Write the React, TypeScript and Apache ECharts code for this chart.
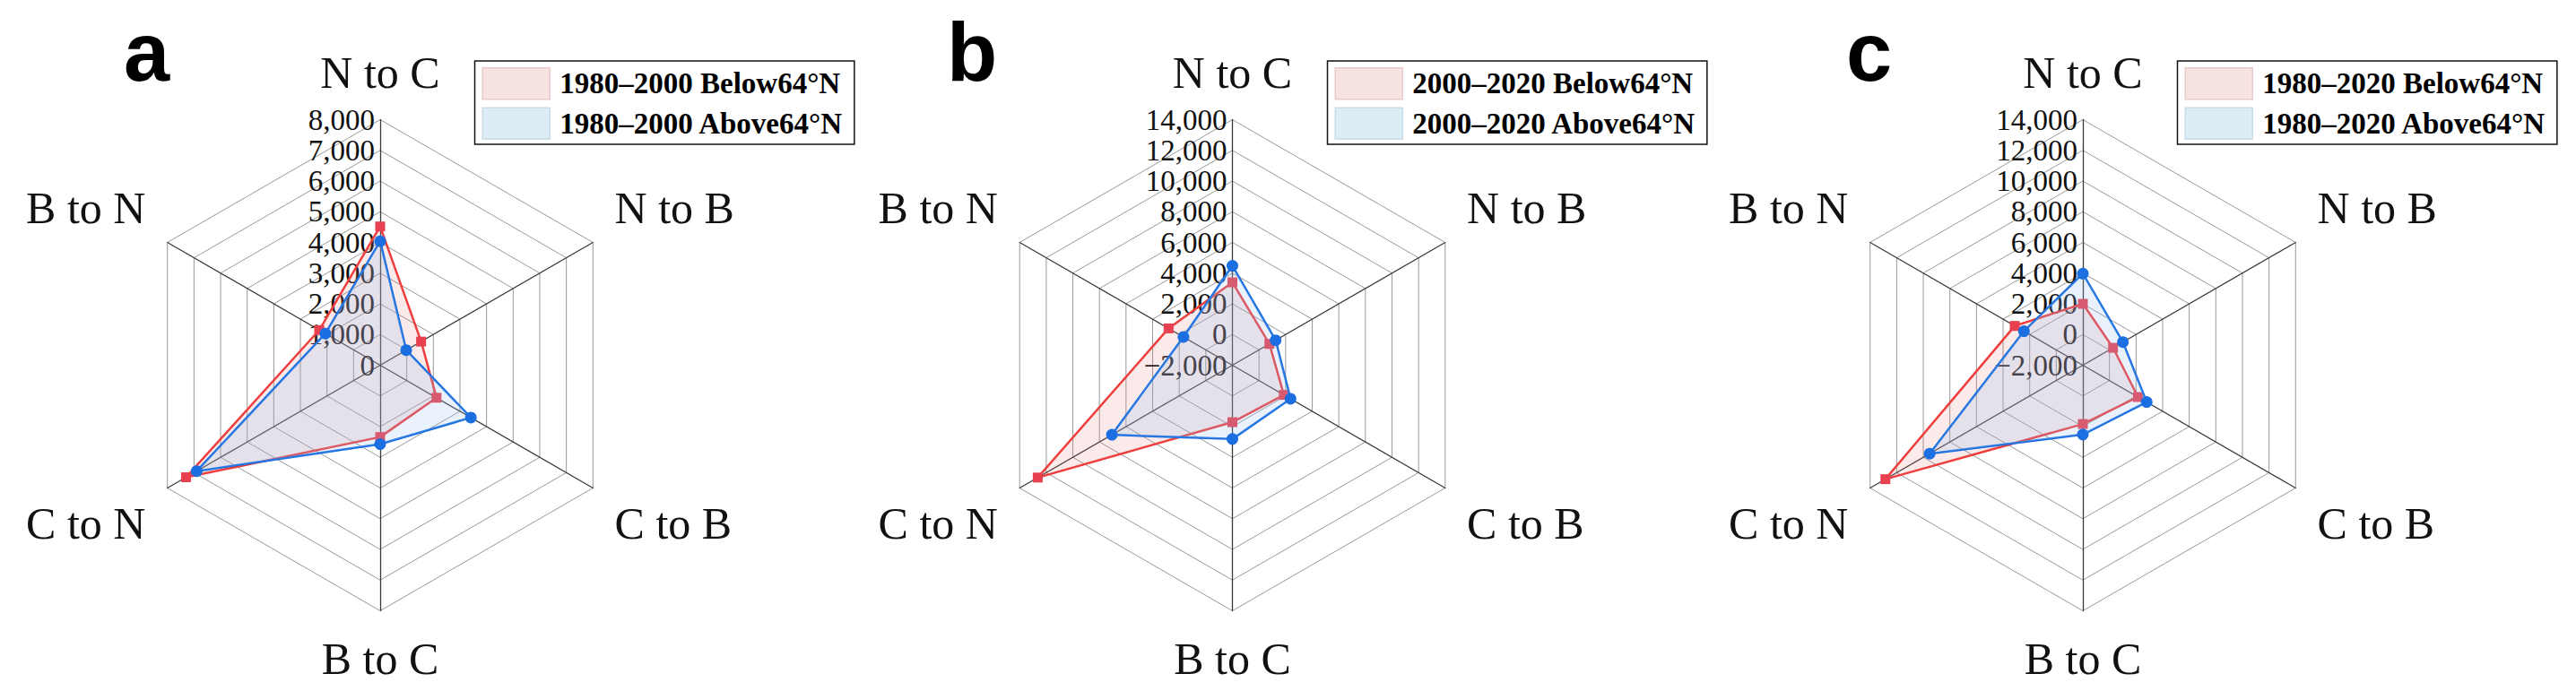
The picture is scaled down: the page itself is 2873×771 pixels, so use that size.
import React, { useEffect, useRef } from "react";
import * as echarts from "echarts";

// Indicators in ECharts order (counter-clockwise from the top)
const categories = ["N to C", "B to N", "C to N", "B to C", "C to B", "N to B"];
const upperSideNames = ["B to N", "N to B"];
const lowerSideNames = ["C to N", "C to B"];

// Panel a: 1980–2000
const aBelow = [4520, 2290, 7300, 2340, 2120, 1540];
const aAbove = [4040, 2060, 6900, 2570, 3410, 980];
// Panel b: 2000–2020
const bBelow = [3400, 2800, 12640, 1710, 1870, 780];
const bAbove = [4480, 1680, 7060, 2810, 2370, 1250];
// Panel c: 1980–2020
const cBelow = [2000, 3120, 12850, 1830, 2144, 272];
const cAbove = [3970, 2430, 9520, 2515, 2800, 1010];

const panelLetters = ["a", "b", "c"];
const periods = ["1980–2000", "2000–2020", "1980–2020"];
const axisMin = [0, -2000, -2000];
const axisMax = [8000, 14000, 14000];
const splitCount = 8;

const belowSuffix = " Below64°N";
const aboveSuffix = " Above64°N";

const panels = [
  { below: aBelow, above: aAbove },
  { below: bBelow, above: bAbove },
  { below: cBelow, above: cAbove },
];

// layout (pixels)
const centersX = [424, 1374.5, 2323];
const centerY = 407.5;
const radius = 274;
const legendLeft = [529.5, 1480.5, 2428.5];
const letterLeft = [138, 1056, 2059];

const SERIF = "'Liberation Serif', 'Times New Roman', serif";
const RED = "#F03A3A";
const BLUE = "#1B6FE0";

function fmt(v: number): string {
  const s = Math.abs(v).toLocaleString("en-US");
  return v < 0 ? "\u2212" + s : s;
}

function nameFmt(name: string): string {
  if (upperSideNames.indexOf(name) >= 0) return name + "\n ";
  if (lowerSideNames.indexOf(name) >= 0) return " \n" + name;
  return name;
}

export default function App() {
  const ref = useRef<HTMLDivElement>(null);

  useEffect(() => {
    if (!ref.current) return;
    const chart = echarts.init(ref.current, undefined, { renderer: "svg" });

    const radar = panels.map((_, p) => ({
      center: [centersX[p], centerY],
      radius,
      startAngle: 90,
      shape: "polygon",
      splitNumber: splitCount,
      nameGap: 28,
      axisName: {
        color: "#111",
        fontFamily: SERIF,
        fontSize: 50,
        formatter: (n: string) => nameFmt(n),
      },
      indicator: categories.map((name, i) => ({
        name,
        min: axisMin[p],
        max: axisMax[p],
        ...(i === 0
          ? {
              axisLabel: {
                show: true,
                color: "#111",
                fontFamily: SERIF,
                fontSize: 33,
                margin: 6,
                formatter: (v: number) => fmt(v),
              },
            }
          : {}),
      })),
      axisLine: { show: true, lineStyle: { color: "#3a3a3a", width: 1.3 } },
      splitLine: { show: true, lineStyle: { color: "#999999", width: 1 } },
      splitArea: { show: false },
      axisTick: { show: false },
      axisLabel: { show: false },
    }));

    const series: any[] = [];
    panels.forEach((pd, p) => {
      const nb = periods[p] + belowSuffix;
      const na = periods[p] + aboveSuffix;
      series.push({
        type: "radar",
        name: nb,
        radarIndex: p,
        symbol: "rect",
        symbolSize: 11,
        z: 2,
        lineStyle: { color: RED, width: 2.5 },
        itemStyle: { color: "#E8404E" },
        areaStyle: { color: "rgba(225,115,115,0.22)" },
        data: [{ name: nb, value: pd.below }],
      });
      series.push({
        type: "radar",
        name: na,
        radarIndex: p,
        symbol: "circle",
        symbolSize: 13,
        z: 3,
        lineStyle: { color: BLUE, width: 2.5 },
        itemStyle: { color: BLUE },
        areaStyle: { color: "rgba(150,195,240,0.3)" },
        data: [{ name: na, value: pd.above }],
      });
    });

    const legend = panels.map((_, p) => ({
      orient: "vertical",
      left: legendLeft[p],
      top: 68,
      selectedMode: false,
      borderColor: "#111",
      borderWidth: 1.5,
      padding: [7, 12, 5, 8],
      itemGap: 8,
      itemWidth: 75,
      itemHeight: 35,
      icon: "rect",
      textStyle: {
        fontFamily: SERIF,
        fontWeight: "bold",
        fontSize: 33,
        color: "#000",
        padding: [0, 0, 0, 6],
      },
      data: [
        {
          name: periods[p] + belowSuffix,
          itemStyle: { color: "#F8E3E3", borderColor: "#E8CACA", borderWidth: 1.5 },
        },
        {
          name: periods[p] + aboveSuffix,
          itemStyle: { color: "#DDEDF5", borderColor: "#C9DCE7", borderWidth: 1.5 },
        },
      ],
    }));

    const title = panelLetters.map((t, p) => ({
      text: t,
      left: letterLeft[p],
      top: 12,
      padding: 0,
      textStyle: {
        fontFamily: "'Liberation Sans', Arial, sans-serif",
        fontWeight: "bold",
        fontSize: 92,
        color: "#000",
      },
    }));

    chart.setOption({
      animation: false,
      backgroundColor: "#fff",
      title,
      legend,
      radar,
      series,
    });

    return () => chart.dispose();
  }, []);

  return (
    <div
      ref={ref}
      style={{ position: "absolute", left: 0, top: 0, width: 2873, height: 771 }}
    />
  );
}
